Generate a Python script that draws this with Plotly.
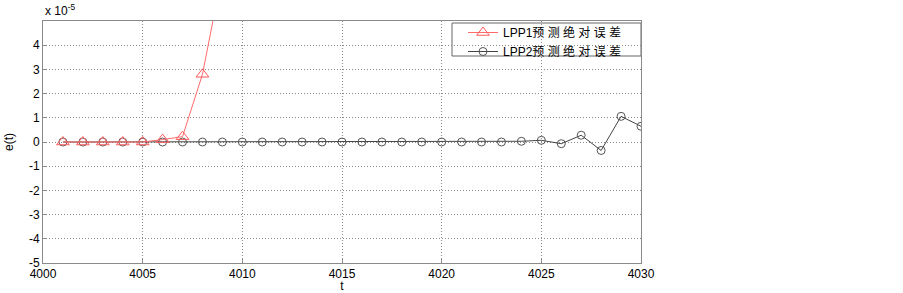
import plotly.graph_objects as go

t1 = [4001, 4002, 4003, 4004, 4005, 4006, 4007, 4008, 4009]
e1 = [0.0, 0.0, 0.0, 0.0, 0.0, 0.1, 0.22, 2.8, 7.0]

t2 = list(range(4001, 4031))
e2 = [0.0] * 23 + [0.03, 0.07, -0.07, 0.28, -0.35, 1.06, 0.65]

xticks = [4000, 4005, 4010, 4015, 4020, 4025, 4030]
yticks = [-5, -4, -3, -2, -1, 0, 1, 2, 3, 4]

W, H = 903, 293
# plot area in screen pixels
SX0, SX1, SY0, SY1 = 43, 641, 21, 263
L, R, T, B = SX0, W - SX1, SY0, H - SY1
pw, ph = SX1 - SX0, SY1 - SY0

def px_x(px):
    return (px - SX0) / pw

def px_y(py):
    return (SY1 - py) / ph

fig = go.Figure()
fig.add_trace(go.Scatter(
    x=t2, y=e2, mode="lines+markers", name="LPP2预 测 绝 对 误 差",
    line=dict(color="#444444", width=1),
    marker=dict(symbol="circle-open", size=8, color="#555555", line=dict(width=1)),
))
fig.add_trace(go.Scatter(
    x=t1, y=e1, mode="lines+markers", name="LPP1预 测 绝 对 误 差",
    line=dict(color="#ff6b6b", width=1),
    marker=dict(symbol="triangle-up-open", size=11, color="#ff5a5a", line=dict(width=1)),
))

axis_common = dict(
    showline=True, mirror=True, linecolor="#8a8a8a", linewidth=1,
    showgrid=True, gridcolor="#8a8a8a", griddash="1px,2px", gridwidth=1,
    ticks="inside", ticklen=4, tickcolor="#8a8a8a",
    zeroline=False, automargin=False,
    tickfont=dict(family="Liberation Sans, Arial", size=12, color="#000000"),
)

fig.update_layout(
    width=W, height=H,
    margin=dict(l=L, r=R, t=T, b=B),
    paper_bgcolor="white", plot_bgcolor="white",
    showlegend=True,
    legend=dict(
        x=px_x(463), xanchor="left", y=px_y(18), yanchor="top",
        borderwidth=0, bgcolor="rgba(0,0,0,0)",
        font=dict(family="Liberation Sans, Noto Sans CJK SC", size=12, color="#000000"),
        traceorder="reversed", tracegroupgap=0, itemwidth=30,
    ),
    shapes=[dict(
        type="rect", xref="paper", yref="paper",
        x0=px_x(452), x1=px_x(641), y0=px_y(56), y1=px_y(23),
        line=dict(color="#666666", width=1), fillcolor="white", layer="below",
    )],
    xaxis=dict(range=[4000, 4030], tickvals=xticks, ticktext=[str(v) for v in xticks],
               title=dict(text="t", standoff=5, font=dict(family="Liberation Sans", size=12, color="#000000")),
               **axis_common),
    yaxis=dict(range=[-5, 5], tickvals=yticks, ticktext=[str(v) for v in yticks],
               title=dict(text="e(t)", standoff=12, font=dict(family="Liberation Sans", size=12, color="#000000")),
               **axis_common),
    annotations=[dict(
        text="x 10<sup>-5</sup>", xref="paper", yref="paper", x=0, y=1,
        xanchor="left", yanchor="bottom", showarrow=False,
        font=dict(family="Liberation Sans", size=12, color="#000000"), yshift=1,
    )],
)

fig.write_html("out.html", config={"displayModeBar": False},
               post_script="document.body.style.margin='0';")
